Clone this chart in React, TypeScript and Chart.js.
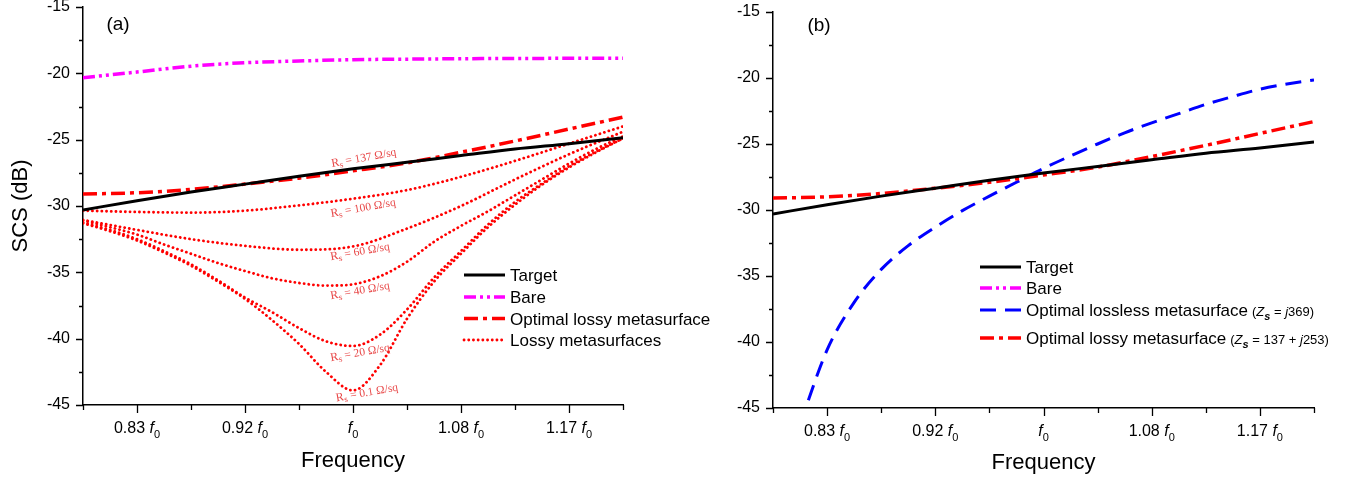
import React, { useEffect, useRef } from 'react';
import { Chart, registerables } from 'chart.js';

Chart.register(...registerables);

const FONT = '"Liberation Sans", Arial, sans-serif';
const SERIF = '"Liberation Serif", "DejaVu Serif", serif';

// ---------- data (normalised frequency f/f0, SCS in dB) ----------
const freqCoarse = [0.7875, 0.83, 0.8725, 0.915, 0.9575, 1.0, 1.0425, 1.085, 1.1275, 1.17, 1.2125];
const freqFine = [
  0.7875, 0.80875, 0.83, 0.85125, 0.8725, 0.89375, 0.915, 0.93625, 0.9575, 0.97875, 1.0,
  1.02125, 1.0425, 1.06375, 1.085, 1.10625, 1.1275, 1.14875, 1.17, 1.19125, 1.2125,
];
const freqLossless = freqFine.slice(1);

const majorTicks = [0.83, 0.915, 1.0, 1.085, 1.17];
const majorTickLabels = ['0.83 ', '0.92 ', '', '1.08 ', '1.17 '];
const minorTicks = [0.7875, 0.8725, 0.9575, 1.0425, 1.1275, 1.2125];
const yMajor = [-15, -20, -25, -30, -35, -40, -45];
const yMinor = [-17.5, -22.5, -27.5, -32.5, -37.5, -42.5];

const target = [-30.3, -29.6, -28.95, -28.35, -27.75, -27.2, -26.7, -26.2, -25.7, -25.3, -24.85];
const bare = [-20.33, -19.9, -19.46, -19.2, -19.07, -18.97, -18.93, -18.9, -18.88, -18.87, -18.87];
const optimalLossy = [-29.1, -29.0, -28.75, -28.35, -27.9, -27.35, -26.75, -25.95, -25.1, -24.2, -23.3];
const lossyRs100 = [-30.35, -30.45, -30.5, -30.35, -29.95, -29.45, -28.8, -27.8, -26.6, -25.3, -24.0];
const lossyRs60 = [-31.05, -31.8, -32.5, -33.0, -33.3, -33.05, -31.7, -30.0, -28.0, -26.1, -24.4];
const lossyRs40 = [
  -31.1, -31.6, -32.15, -32.9, -33.6, -34.3, -34.9, -35.45, -35.8, -36.0, -35.9,
  -35.3, -34.2, -32.7, -31.5, -30.4, -29.2, -28.0, -26.8, -25.7, -24.75,
];
const lossyRs20 = [
  -31.25, -31.8, -32.5, -33.4, -34.4, -35.6, -36.9, -38.0, -39.2, -40.2, -40.55,
  -39.7, -37.8, -35.4, -33.4, -31.4, -29.7, -28.3, -27.0, -25.9, -24.9,
];
const lossyRs01 = [
  -31.3, -31.9, -32.6, -33.5, -34.5, -35.7, -37.0, -38.6, -40.4, -42.5, -43.9,
  -42.0, -38.5, -35.7, -33.6, -31.6, -29.9, -28.4, -27.1, -25.95, -24.9,
];
const lossless = [
  -46.2, -40.6, -37.0, -34.5, -32.7, -31.3, -30.05, -28.95, -27.9, -26.85,
  -25.9, -25.0, -24.15, -23.4, -22.7, -22.0, -21.4, -20.85, -20.45, -20.15,
];

const legendA = ['Target', 'Bare', 'Optimal lossy metasurface', 'Lossy metasurfaces'];
const legendB = ['Target', 'Bare', 'Optimal lossless metasurface', 'Optimal lossy metasurface'];
const rsLabels = ['137', '100', '60', '40', '20', '0.1'];
const rsLabelFreq = [1.0085, 1.008, 1.0055, 1.0055, 1.0055, 1.011];
const rsLabelDb = [-26.39, -30.16, -33.47, -36.41, -41.08, -44.09];

// ---------- styles ----------
type Sty = { color: string; width: number; dash: number[]; cap: CanvasLineCap; order: number };
const STY: Record<string, Sty> = {
  target: { color: '#000000', width: 3, dash: [], cap: 'butt', order: 0 },
  bare: { color: '#FF00FF', width: 3.5, dash: [12, 4, 3, 4, 3, 4], cap: 'butt', order: 2 },
  optimal: { color: '#FF0000', width: 3.5, dash: [14, 5, 4, 5], cap: 'butt', order: 1 },
  lossless: { color: '#0000FF', width: 3, dash: [16, 9], cap: 'butt', order: 1 },
  lossy: { color: '#FF0000', width: 2.8, dash: [0.1, 4.6], cap: 'round', order: 3 },
};

function ds(label: string, xs: number[], ys: number[], s: Sty) {
  return {
    label,
    data: ys.map((y, i) => ({ x: xs[i], y })),
    borderColor: s.color,
    borderWidth: s.width,
    borderDash: s.dash,
    borderCapStyle: s.cap,
    pointRadius: 0,
    fill: false,
    cubicInterpolationMode: 'monotone',
    order: s.order,
  };
}

type Run = { t: string; size: number; italic?: boolean; bold?: boolean; dy?: number; family?: string };
const runFont = (r: Run) =>
  `${r.italic ? 'italic ' : ''}${r.bold ? 'bold ' : ''}${r.size}px ${r.family || FONT}`;
function runsWidth(ctx: CanvasRenderingContext2D, runs: Run[]) {
  let w = 0;
  for (const r of runs) {
    ctx.font = runFont(r);
    w += ctx.measureText(r.t).width;
  }
  return w;
}
function drawRuns(ctx: CanvasRenderingContext2D, runs: Run[], x: number, y: number) {
  let cx = x;
  for (const r of runs) {
    ctx.font = runFont(r);
    ctx.fillText(r.t, cx, y + (r.dy || 0));
    cx += ctx.measureText(r.t).width;
  }
}

type LegendItem = { text: string; sty: Sty; note?: Run[] };
type PanelCfg = {
  panel: string;
  labelDx: number;
  labelDy: number;
  legend: LegendItem[];
  legendDx: number;
  legendRows: number[];
  annotate: boolean;
};

function overlay(cfg: PanelCfg) {
  return {
    id: 'overlay' + cfg.panel,
    afterDraw(chart: any) {
      const ctx: CanvasRenderingContext2D = chart.ctx;
      const xs = chart.scales.x;
      const ys = chart.scales.y;
      const a = chart.chartArea;
      ctx.save();
      ctx.strokeStyle = '#000';
      ctx.lineWidth = 1.3;
      ctx.setLineDash([]);
      ctx.beginPath();
      for (const v of yMajor) {
        const y = Math.round(ys.getPixelForValue(v)) + 0.5;
        ctx.moveTo(a.left - 7, y);
        ctx.lineTo(a.left, y);
      }
      for (const v of yMinor) {
        const y = Math.round(ys.getPixelForValue(v)) + 0.5;
        ctx.moveTo(a.left - 4, y);
        ctx.lineTo(a.left, y);
      }
      for (const f of majorTicks) {
        const x = Math.round(xs.getPixelForValue(f)) + 0.5;
        ctx.moveTo(x, a.bottom);
        ctx.lineTo(x, a.bottom + 8);
      }
      for (const f of minorTicks) {
        const x = Math.round(xs.getPixelForValue(f)) + 0.5;
        ctx.moveTo(x, a.bottom);
        ctx.lineTo(x, a.bottom + 5);
      }
      ctx.stroke();

      // x tick labels with italic f and subscript 0
      ctx.fillStyle = '#000';
      ctx.textAlign = 'left';
      ctx.textBaseline = 'alphabetic';
      majorTicks.forEach((f, i) => {
        const runs: Run[] = [];
        if (majorTickLabels[i]) runs.push({ t: majorTickLabels[i], size: 16 });
        runs.push({ t: 'f', size: 16, italic: true });
        runs.push({ t: '0', size: 11, dy: 5 });
        const w = runsWidth(ctx, runs);
        drawRuns(ctx, runs, xs.getPixelForValue(f) - w / 2, a.bottom + 28);
      });

      // panel label
      ctx.font = `19px ${FONT}`;
      ctx.textAlign = 'center';
      ctx.textBaseline = 'middle';
      ctx.fillText(`(${cfg.panel})`, a.left + cfg.labelDx, a.top + cfg.labelDy);

      // legend
      const lx = a.left + cfg.legendDx;
      cfg.legend.forEach((item, i) => {
        const y = cfg.legendRows[i];
        ctx.save();
        ctx.strokeStyle = item.sty.color;
        ctx.lineWidth = item.sty.width;
        ctx.lineCap = item.sty.cap;
        ctx.setLineDash(item.sty.dash);
        ctx.beginPath();
        ctx.moveTo(lx, y);
        ctx.lineTo(lx + 41, y);
        ctx.stroke();
        ctx.restore();
        ctx.fillStyle = '#000';
        ctx.textAlign = 'left';
        ctx.textBaseline = 'alphabetic';
        const main: Run[] = [{ t: item.text, size: 17 }];
        drawRuns(ctx, main, lx + 46, y + 6);
        if (item.note) {
          const w = runsWidth(ctx, main);
          drawRuns(ctx, item.note, lx + 46 + w + 4, y + 6);
        }
      });

      // Rs annotations
      if (cfg.annotate) {
        ctx.fillStyle = '#E84848';
        rsLabels.forEach((rs, i) => {
          const runs: Run[] = [
            { t: 'R', size: 12, family: SERIF },
            { t: 's', size: 9, dy: 3, family: SERIF },
            { t: ` = ${rs} Ω/sq`, size: 11.5, family: SERIF },
          ];
          const w = runsWidth(ctx, runs);
          const cx = xs.getPixelForValue(rsLabelFreq[i]);
          const cy = ys.getPixelForValue(rsLabelDb[i]);
          ctx.save();
          ctx.translate(cx, cy);
          ctx.rotate((-10 * Math.PI) / 180);
          ctx.textAlign = 'left';
          ctx.textBaseline = 'middle';
          drawRuns(ctx, runs, -w / 2, 0);
          ctx.restore();
        });
      }
      ctx.restore();
    },
  };
}

function makeConfig(panel: 'a' | 'b', canvasH: number, top: number, bottom: number, right: number, xTitlePad: number): any {
  const datasets: any[] =
    panel === 'a'
      ? [
          ds('Target', freqCoarse, target, STY.target),
          ds('Optimal lossy metasurface', freqCoarse, optimalLossy, STY.optimal),
          ds('Bare', freqCoarse, bare, STY.bare),
          ds('Lossy Rs = 100', freqCoarse, lossyRs100, STY.lossy),
          ds('Lossy Rs = 60', freqCoarse, lossyRs60, STY.lossy),
          ds('Lossy Rs = 40', freqFine, lossyRs40, STY.lossy),
          ds('Lossy Rs = 20', freqFine, lossyRs20, STY.lossy),
          ds('Lossy Rs = 0.1', freqFine, lossyRs01, STY.lossy),
        ]
      : [
          ds('Target', freqCoarse, target, STY.target),
          ds('Optimal lossy metasurface', freqCoarse, optimalLossy, STY.optimal),
          ds('Optimal lossless metasurface', freqLossless, lossless, STY.lossless),
          ds('Bare', [], [], STY.bare),
        ];

  const cfg: PanelCfg =
    panel === 'a'
      ? {
          panel,
          labelDx: 35,
          labelDy: 18,
          legend: [
            { text: legendA[0], sty: STY.target },
            { text: legendA[1], sty: STY.bare },
            { text: legendA[2], sty: STY.optimal },
            { text: legendA[3], sty: STY.lossy },
          ],
          legendDx: 381,
          legendRows: [275, 297, 318.5, 340],
          annotate: true,
        }
      : {
          panel,
          labelDx: 46,
          labelDy: 14,
          legend: [
            { text: legendB[0], sty: STY.target },
            { text: legendB[1], sty: STY.bare },
            {
              text: legendB[2],
              sty: STY.lossless,
              note: [
                { t: '(', size: 13 },
                { t: 'Z', size: 13, italic: true },
                { t: 's', size: 11, italic: true, bold: true, dy: 4 },
                { t: ' = ', size: 13 },
                { t: 'j', size: 13, italic: true },
                { t: '369)', size: 13 },
              ],
            },
            {
              text: legendB[3],
              sty: STY.optimal,
              note: [
                { t: '(', size: 13 },
                { t: 'Z', size: 13, italic: true },
                { t: 's', size: 11, italic: true, bold: true, dy: 4 },
                { t: ' = 137 + ', size: 13 },
                { t: 'j', size: 13, italic: true },
                { t: '253)', size: 13 },
              ],
            },
          ],
          legendDx: 207,
          legendRows: [267, 288, 310, 338],
          annotate: false,
        };

  return {
    type: 'line',
    data: { datasets },
    options: {
      animation: false,
      responsive: false,
      devicePixelRatio: 1,
      events: [],
      layout: { padding: { top, right, left: 0, bottom: 0 } },
      plugins: { legend: { display: false }, tooltip: { enabled: false } },
      scales: {
        x: {
          type: 'linear',
          min: 0.7875,
          max: 1.2125,
          ticks: { display: false },
          grid: { display: false },
          border: { display: true, color: '#000', width: 1.5 },
          title: {
            display: true,
            text: 'Frequency',
            color: '#000',
            font: { size: 22, family: FONT },
            padding: { top: 0, bottom: xTitlePad },
          },
          afterFit: (s: any) => {
            s.height = canvasH - bottom;
            s.paddingLeft = 0;
            s.paddingRight = 0;
          },
        },
        y: {
          type: 'linear',
          min: -45,
          max: -15,
          afterBuildTicks: (s: any) => {
            s.ticks = yMajor.map((v) => ({ value: v }));
          },
          ticks: { color: '#000', font: { size: 16, family: FONT }, padding: 6 },
          grid: { display: false, drawTicks: true, tickLength: 7 },
          border: { display: true, color: '#000', width: 1.5 },
          title: {
            display: panel === 'a',
            text: 'SCS (dB)',
            color: '#000',
            font: { size: 22, family: FONT },
            padding: { top: 8, bottom: 0 },
          },
          afterFit: (s: any) => {
            s.width = 83;
            s.paddingTop = 0;
            s.paddingBottom = 0;
          },
        },
      },
    },
    plugins: [overlay(cfg)],
  };
}

export default function App() {
  const refA = useRef<HTMLCanvasElement>(null);
  const refB = useRef<HTMLCanvasElement>(null);
  useEffect(() => {
    const ca = new Chart(refA.current as HTMLCanvasElement, makeConfig('a', 480, 7, 405, 157, 6));
    const cb = new Chart(refB.current as HTMLCanvasElement, makeConfig('b', 480, 12, 408, 51, 4));
    return () => {
      ca.destroy();
      cb.destroy();
    };
  }, []);
  return (
    <div style={{ position: 'absolute', left: 0, top: 0, width: 1365, height: 480, background: '#fff', overflow: 'hidden' }}>
      <canvas ref={refA} width={780} height={480} style={{ position: 'absolute', left: 0, top: 0, width: 780, height: 480 }} />
      <canvas ref={refB} width={675} height={480} style={{ position: 'absolute', left: 690, top: 0, width: 675, height: 480 }} />
    </div>
  );
}
